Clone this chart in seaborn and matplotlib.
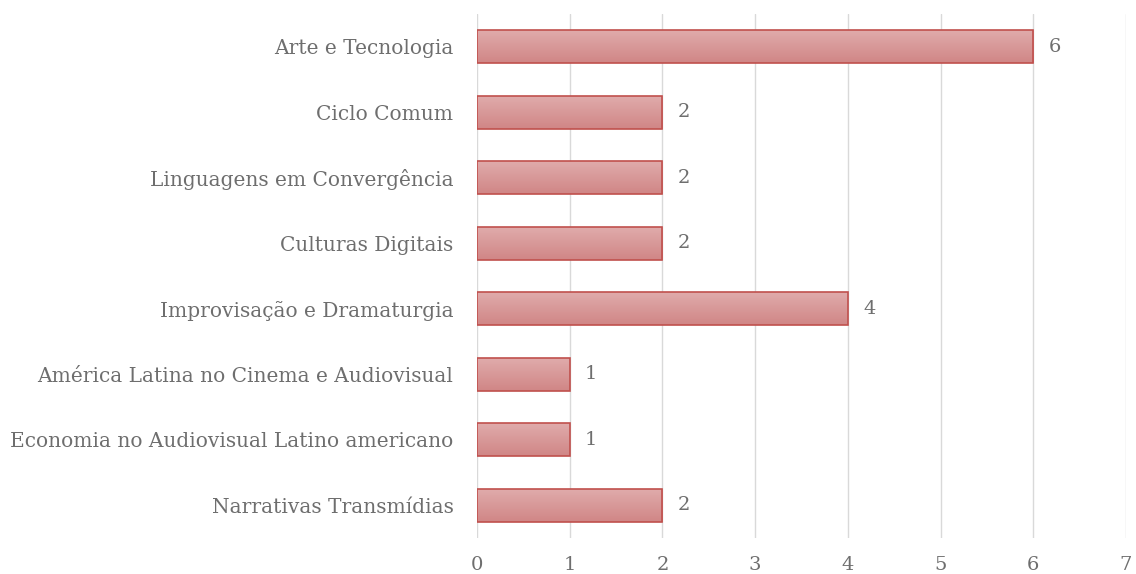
import matplotlib
matplotlib.use("Agg")
import matplotlib.pyplot as plt
import seaborn as sns
import pandas as pd
import numpy as np

# data (top to bottom)
categorias = [
    "Arte e Tecnologia",
    "Ciclo Comum",
    "Linguagens em Convergência",
    "Culturas Digitais",
    "Improvisação e Dramaturgia",
    "América Latina no Cinema e Audiovisual",
    "Economia no Audiovisual Latino americano",
    "Narrativas Transmídias",
]
valores = [6, 2, 2, 2, 4, 1, 1, 2]
x_ticks = [0, 1, 2, 3, 4, 5, 6, 7]

df = pd.DataFrame({"Disciplina": categorias, "Quantidade": valores})

sns.set_style("white")
plt.rcParams["font.family"] = ["DejaVu Serif"]
text_color = "#6e6e6e"

fig = plt.figure(figsize=(11.36, 5.74), dpi=100)
ax = fig.add_axes([0.4199, 0.0627, 0.5713, 0.9129])

sns.barplot(data=df, x="Quantidade", y="Disciplina", orient="h",
            color="#d99595", edgecolor="#c0504d", linewidth=1.2,
            width=0.5, saturation=1, ax=ax, zorder=3)

ax.set_xlim(0, 7)
ax.set_xticks(x_ticks)

# soft vertical gradient inside each bar, like the original
grad = np.linspace(0, 1, 64).reshape(-1, 1)
cmap = matplotlib.colors.LinearSegmentedColormap.from_list("g", ["#e0abab", "#d08686"])
for p in list(ax.patches):
    x0, y0 = p.get_x(), p.get_y()
    w, h = p.get_width(), p.get_height()
    im = ax.imshow(grad, cmap=cmap, aspect="auto", origin="upper",
                   extent=(x0, x0 + w, y0 + h, y0), zorder=3.5)
    im.set_clip_path(p)
    p.set_facecolor("none")
    p.set_zorder(4)
ax.set_xlim(0, 7)
ax.set_ylim(7.5, -0.5)
ax.set_aspect("auto")

ax.grid(axis="x", color="#d9d9d9", linewidth=1, zorder=0)
ax.set_axisbelow(True)
for s in ax.spines.values():
    s.set_visible(False)
ax.set_xlabel("")
ax.set_ylabel("")
ax.tick_params(axis="both", length=0, labelcolor=text_color)
ax.tick_params(axis="x", pad=13, labelsize=14)
ax.tick_params(axis="y", pad=17, labelsize=14.5)

for c in ax.containers:
    ax.bar_label(c, padding=11, fontsize=14, color=text_color)

fig.savefig("out.png", dpi=100)
